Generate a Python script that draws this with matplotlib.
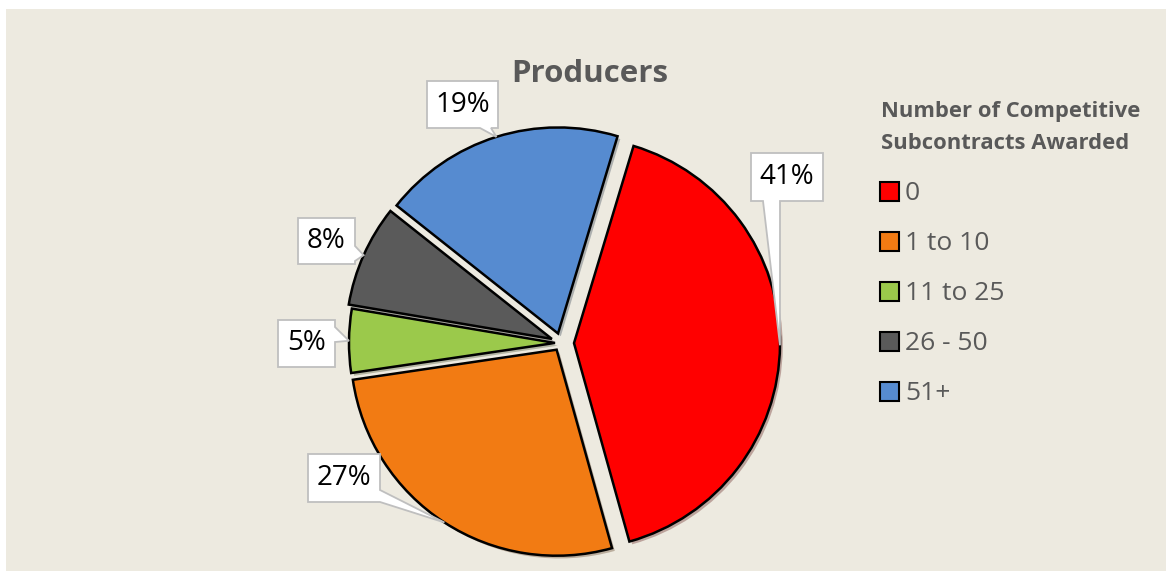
import numpy as np
import matplotlib
matplotlib.use('Agg')
import matplotlib.pyplot as plt
import matplotlib.patheffects as pe
from matplotlib.patches import Rectangle, Polygon

plt.rcParams['font.family'] = ['Open Sans', 'DejaVu Sans']

# data
categories = ['0', '1 to 10', '11 to 25', '26 - 50', '51+']
shares = [41, 27, 5, 8, 19]
pct_labels = ['41%', '27%', '5%', '8%', '19%']
colors = ['#FF0000', '#F27B13', '#9BC94B', '#5A5A5A', '#568BD0']
explode_px = [13, 8, 6, 10, 10]

W, H = 1166, 571
fig = plt.figure(figsize=(W / 100, H / 100), dpi=100)
fig.patch.set_facecolor('white')
bg = Rectangle((6 / W, 0), 1, 1 - 9 / H, transform=fig.transFigure,
               facecolor='#EDEAE0', edgecolor='none', zorder=-5)
fig.add_artist(bg)

ax = fig.add_axes([0, 0, 1, 1])
ax.set_facecolor('none')

cx, cy, r = 561, H - 343, 206
# explode is in data units here (axes are in pixels)
wedges, _ = ax.pie(shares, colors=colors, startangle=73.2, counterclock=False,
                   explode=explode_px, center=(cx, cy), radius=r,
                   wedgeprops=dict(edgecolor='black', linewidth=1.8))
for w in wedges:
    w.set_path_effects([pe.SimplePatchShadow(offset=(2, -2), alpha=0.3), pe.Normal()])

ax.set_xlim(0, W)
ax.set_ylim(0, H)
ax.set_aspect('equal')
ax.axis('off')

# callout boxes (image pixel coords) and where the pointer leaves the box
label_boxes = [(751, 153, 823, 201), (308, 454, 380, 502), (278, 320, 335, 367),
               (298, 218, 355, 264), (427, 81, 498, 128)]
pointer_bases = [('bottom', 763, 780), ('right', 490, 502), ('right', 327, 342),
                 ('right', 246, 261), ('bottom', 480, 491)]

for w, txt, box, base in zip(wedges, pct_labels, label_boxes, pointer_bases):
    mid = np.deg2rad((w.theta1 + w.theta2) / 2)
    tip = (w.center[0] + w.r * np.cos(mid), w.center[1] + w.r * np.sin(mid))
    x0, y0, x1, y1 = box
    side, a, b = base
    pts = [(x0, H - y0), (x1, H - y0)]
    if side == 'right':
        pts += [(x1, H - a), tip, (x1, H - b)]
    pts.append((x1, H - y1))
    if side == 'bottom':
        pts += [(b, H - y1), tip, (a, H - y1)]
    pts.append((x0, H - y1))
    ax.add_patch(Polygon(pts, closed=True, facecolor='white', edgecolor='#BFBFBF',
                         linewidth=1.3, joinstyle='miter', zorder=5))
    ax.text((x0 + x1) / 2, H - (y0 + y1) / 2, txt, ha='center', va='center',
            fontsize=20, color='black', zorder=6)

# title
ax.text(590, H - 82, 'Producers', ha='center', va='baseline', fontsize=22.5,
        fontweight='bold', color='#595959')

# legend
ax.text(881, H - 117, 'Number of Competitive', ha='left', va='baseline',
        fontsize=15.8, fontweight='bold', color='#595959')
ax.text(881, H - 149, 'Subcontracts Awarded', ha='left', va='baseline',
        fontsize=15.8, fontweight='bold', color='#595959')
for i, (cat, col) in enumerate(zip(categories, colors)):
    top = 182 + 50 * i
    ax.add_patch(Rectangle((880, H - top - 19), 19, 19, facecolor=col,
                           edgecolor='black', linewidth=1.5))
    ax.text(905, H - (200 + 50 * i), cat, ha='left', va='baseline',
            fontsize=19, color='#595959')

fig.savefig('out.png', dpi=100, facecolor=fig.get_facecolor())
